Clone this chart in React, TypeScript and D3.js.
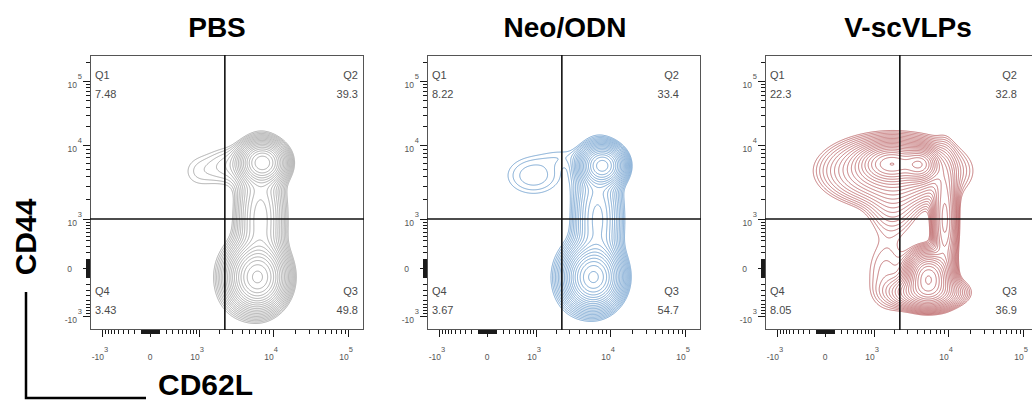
import React from "react";
import * as d3 from "d3";

// panel titles and quadrant frequencies (%)
const panelTitles = ["PBS", "Neo/ODN", "V-scVLPs"];
const q1Values = ["7.48", "8.22", "22.3"];
const q2Values = ["39.3", "33.4", "32.8"];
const q3Values = ["49.8", "54.7", "36.9"];
const q4Values = ["3.43", "3.67", "8.05"];
const lineColors = ["#8c8c8c", "#4a87c2", "#ad4548"];

// quadrant gates
const gateCD62L = 2400;
const gateCD44 = 1000;

// axis ticks (biexponential display)
const majorTicks = [-1000, 0, 1000, 10000, 100000];
const tickBase = ["-10", "0", "10", "10", "10"];
const tickExp = ["3", "", "3", "4", "5"];

// populations: [CD62L, CD44, spread CD62L (decades), spread CD44 (decades), weight]
const pbsBlobs = [
  [7300, 6130, 0.15, 0.135, 1.0],
  [6320, -100, 0.175, 0.2, 1.4],
  [6900, 1000, 0.16, 0.47, 0.25],
  [2700, 5600, 0.2, 0.18, 0.035],
  [950, 4700, 0.2, 0.2, 0.02],
  [3600, -100, 0.2, 0.3, 0.05],
];
const neoBlobs = [
  [7950, 5620, 0.14, 0.13, 1.0],
  [6130, -100, 0.17, 0.19, 1.5],
  [6900, 1000, 0.16, 0.46, 0.25],
  [893, 4180, 0.3, 0.21, 0.034],
  [2600, 7500, 0.22, 0.1, 0.014],
  [3600, -100, 0.2, 0.3, 0.05],
];
const vlpBlobs = [
  [1800, 5960, 0.2, 0.12, 0.8],
  [4400, 5800, 0.12, 0.11, 0.8],
  [1900, 4800, 0.44, 0.22, 0.25],
  [9000, 1000, 0.085, 0.42, 0.22],
  [5620, -101, 0.135, 0.16, 1.0],
  [5300, -337, 0.24, 0.11, 0.3],
  [1900, 1800, 0.2, 0.25, 0.045],
  [1500, -60, 0.2, 0.36, 0.022],
];
const panelBlobs = [pbsBlobs, neoBlobs, vlpBlobs];

const W = 1032, H = 410;
const panelX = [90, 427, 765];
const panelY = 55;
const PW = 274, PH = 275;
const titleShift = [-10, 1, 6];
const rightInset = [6, 22, 22];
const font = "Arial, 'Liberation Sans', Helvetica, sans-serif";

// minor tick values
const minorTicks: number[] = [];
[10, 100, 1000, 10000, 100000].forEach((d) => {
  for (let m = 1; m <= 9; m++) {
    minorTicks.push(m * d);
    if (m * d < 1000) minorTicks.push(-m * d);
  }
});

const x = d3.scaleSymlog().constant(350)
  .domain([-1000, 0, 1000, 10000, 100000]).range([12, 60, 109, 183, 258]);
const y = d3.scaleSymlog().constant(350)
  .domain([-1000, 0, 1000, 10000, 100000]).range([261, 213, 164, 90, 26]);
const decadePx = x(10000) - x(1000);
const px = (v: number) => Math.round(v) + 0.5;

function contoursFor(blobs: number[][]) {
  const vals = new Float64Array(PW * PH);
  const bs = blobs.map((b) => ({
    cx: x(b[0]), cy: y(b[1]), sx: b[2] * decadePx, sy: b[3] * decadePx, w: b[4],
  }));
  for (let i = 0; i < PH; i++) {
    for (let j = 0; j < PW; j++) {
      let v = 0;
      for (const b of bs) {
        const dx = (j - b.cx) / b.sx, dy = (i - b.cy) / b.sy;
        v += b.w * Math.exp(-0.5 * (dx * dx + dy * dy));
      }
      vals[i * PW + j] = v;
    }
  }
  const max = d3.max(vals) as number;
  const n = 20;
  const lo = 0.012;
  const levels = d3.range(n).map((k) => max * Math.pow(lo, 1 - k / (n - 1)) * 0.93);
  return d3.contours().size([PW, PH]).thresholds(levels)(Array.from(vals));
}

function Panel({ idx }: { idx: number }) {
  const path = d3.geoPath();
  const cs = contoursFor(panelBlobs[idx]);
  const color = lineColors[idx];
  const gx = x(gateCD62L), gy = y(gateCD44);
  const minY = minorTicks.filter((t) => y(t) > 2 && y(t) < PH - 2);
  const minX = minorTicks.filter((t) => x(t) > 2 && x(t) < PW - 2);
  const yTicks = minY.map((t) => `M-4,${px(y(t))}H0`).join("") +
    majorTicks.map((t) => `M-7,${px(y(t))}H0`).join("");
  const xTicks = minX.map((t) => `M${px(x(t))},${PH}V${PH + 4}`).join("") +
    majorTicks.map((t) => `M${px(x(t))},${PH}V${PH + 7}`).join("");
  const qFont = { fontFamily: font, fontSize: 11, fill: "#4a4a4a" } as const;
  return (
    <g transform={`translate(${panelX[idx]},${panelY})`}>
      <text x={PW / 2 + titleShift[idx]} y={-18} textAnchor="middle"
        style={{ fontFamily: font, fontSize: 28, fontWeight: "bold" }}>{panelTitles[idx]}</text>
      <clipPath id={`clip${idx}`}><rect width={PW} height={PH} /></clipPath>
      <g clipPath={`url(#clip${idx})`}>
        {cs.map((c, k) => (
          <path key={k} d={path(c as any) || ""} fill="none" stroke={color} strokeWidth={0.7} />
        ))}
      </g>
      <rect x={0.5} y={0.5} width={PW - 1} height={PH - 1} fill="none" stroke="#555" strokeWidth={1} />
      <line x1={gx} x2={gx} y1={0} y2={PH} stroke="#111" strokeWidth={1.6} />
      <line x1={0} x2={PW} y1={gy} y2={gy} stroke="#111" strokeWidth={1.6} />
      {/* axes ticks */}
      <path d={yTicks} stroke="#1a1a1a" strokeWidth={1} fill="none" />
      <path d={xTicks} stroke="#1a1a1a" strokeWidth={1} fill="none" />
      {majorTicks.map((t, k) => (
        <text key={`yl${k}`} x={tickExp[k] ? -13 : -18} y={y(t) + (tickExp[k] ? 7 : 4)} textAnchor="end"
          style={{ fontFamily: font, fontSize: 8.5, fill: "#555" }}>
          {tickBase[k]}
          {tickExp[k] && <tspan x={-8} dy={-9} textAnchor="end" fontSize={7.5}>{tickExp[k]}</tspan>}
        </text>
      ))}
      {majorTicks.map((t, k) => (
        <text key={`xl${k}`} x={x(t) + (tickExp[k] ? -2 : 0)} y={PH + 30} textAnchor="middle"
          style={{ fontFamily: font, fontSize: 8.5, fill: "#555" }}>
          {tickBase[k]}
          {tickExp[k] && <tspan dy={-8} fontSize={7.5}>{tickExp[k]}</tspan>}
        </text>
      ))}
      {/* quadrant stats */}
      <text x={5} y={24} style={qFont}>Q1</text>
      <text x={5} y={43} style={qFont}>{q1Values[idx]}</text>
      <text x={PW - rightInset[idx]} y={24} textAnchor="end" style={qFont}>Q2</text>
      <text x={PW - rightInset[idx]} y={43} textAnchor="end" style={qFont}>{q2Values[idx]}</text>
      <text x={5} y={240} style={qFont}>Q4</text>
      <text x={5} y={259} style={qFont}>{q4Values[idx]}</text>
      <text x={PW - rightInset[idx]} y={240} textAnchor="end" style={qFont}>Q3</text>
      <text x={PW - rightInset[idx]} y={259} textAnchor="end" style={qFont}>{q3Values[idx]}</text>
    </g>
  );
}

export default function App() {
  return (
    <svg width={W} height={H} style={{ position: "absolute", left: 0, top: 0, background: "#fff" }}>
      <rect width={W} height={H} fill="#fff" />
      {panelTitles.map((_, i) => <Panel key={i} idx={i} />)}
      <text transform="translate(36,237) rotate(-90)" textAnchor="middle"
        style={{ fontFamily: font, fontSize: 30, fontWeight: "bold" }}>CD44</text>
      <path d="M26,292 V398 H146" fill="none" stroke="#000" strokeWidth={2.5} />
      <text x={158} y={395} style={{ fontFamily: font, fontSize: 30, fontWeight: "bold" }}>CD62L</text>
    </svg>
  );
}
